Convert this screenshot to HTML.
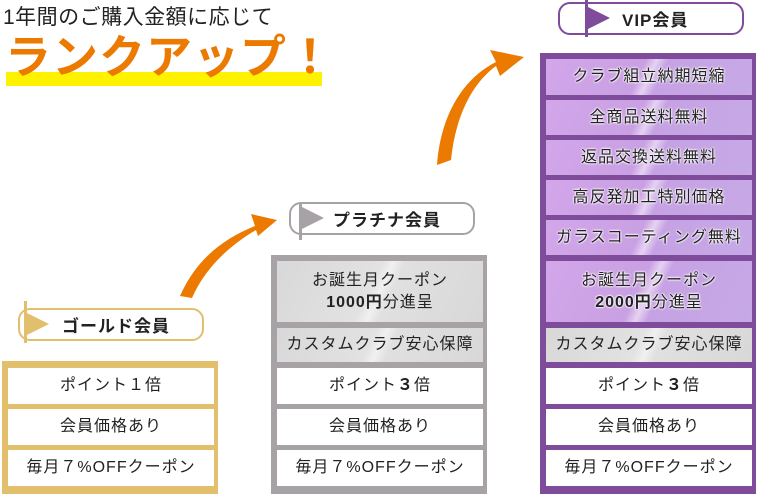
<!DOCTYPE html>
<html><head><meta charset="utf-8"><style>
*{margin:0;padding:0;box-sizing:border-box}
body{width:759px;height:494px;background:#fff;position:relative;overflow:hidden;font-family:"Liberation Sans","Noto Sans CJK JP",sans-serif;color:#222}
.a{position:absolute}
.box{position:absolute}
.row{position:absolute;left:6px;width:206px;display:flex;flex-direction:column;align-items:center;justify-content:center;font-size:16px;letter-spacing:1px;text-align:center;line-height:22px;background:#fff;white-space:nowrap}
.g{background:linear-gradient(115deg,#d8d8d8 0%,#e2e2e2 45%,#f0f0f0 50%,#e0e0e0 55%,#d8d8d8 100%)}
.p{background:linear-gradient(115deg,#d3a6ea 0%,#c9a0e3 45%,#e6d2f2 50%,#c6a2e4 55%,#c7a9e6 100%);color:#222;text-shadow:0 0 2px #fff,0 0 2px #fff,0 0 2px #fff}
.pill{position:absolute;height:33px;border-radius:12px;background:#fff;font-weight:bold;font-size:17px;letter-spacing:1px;display:flex;align-items:center}
b{font-weight:bold}
</style></head><body>
<div class="a" style="left:3px;top:1px;font-size:21px;color:#222;letter-spacing:0.5px">1年間のご購入金額に応じて</div>
<div class="a" style="left:6px;top:72px;width:316px;height:14px;background:#fff200"></div>
<div class="a" style="left:5px;top:31px;font-size:46px;font-weight:bold;color:#ec7a00;letter-spacing:1px;line-height:52px">ランクアップ！</div>

<svg class="a" style="left:0;top:0" width="759" height="494">
<path d="M437,165 C440,120 460,80 496,62 L490,50 L524,57 L500,76 L496,66 C470,85 455,120 451,160 Z" fill="#ec7a00"/>
<path d="M180,296 C195,262 220,240 255,226 L251,214 L277,220 L258,236 L256,230 C230,245 205,268 192,298 Z" fill="#ec7a00"/>
</svg>

<!-- Gold -->
<div class="pill" style="left:18px;top:308px;width:186px;border:2px solid #e2bf6d"><span style="margin-left:42px">ゴールド会員</span></div>
<div class="a" style="left:24px;top:301px;width:3px;height:42px;background:#e2bf6d"></div>
<svg class="a" style="left:27px;top:313px" width="24" height="22"><path d="M0,0 L22,11 L0,22Z" fill="#e2bf6d"/></svg>
<div class="box" style="left:2px;top:361px;width:216px;height:133px;background:#e2bf6d">
<div class="row" style="top:7px;height:36px">ポイント１倍</div>
<div class="row" style="top:48px;height:36px">会員価格あり</div>
<div class="row" style="top:89px;height:36px">毎月７%OFFクーポン</div>
</div>

<!-- Platinum -->
<div class="pill" style="left:289px;top:202px;width:186px;border:2px solid #a7a2a6"><span style="margin-left:42px">プラチナ会員</span></div>
<div class="a" style="left:299px;top:204px;width:3px;height:36px;background:#a7a2a6"></div>
<svg class="a" style="left:302px;top:207px" width="24" height="22"><path d="M0,0 L22,11 L0,22Z" fill="#a7a2a6"/></svg>
<div class="box" style="left:271px;top:255px;width:216px;height:239px;background:#a7a2a6">
<div class="row g" style="top:6px;height:61px"><div>お誕生月クーポン</div><div><b>1000円</b>分進呈</div></div>
<div class="row g" style="top:73px;height:34px">カスタムクラブ安心保障</div>
<div class="row" style="top:113px;height:36px"><div>ポイント<b>３</b>倍</div></div>
<div class="row" style="top:154px;height:36px">会員価格あり</div>
<div class="row" style="top:195px;height:36px">毎月７%OFFクーポン</div>
</div>

<!-- VIP -->
<div class="pill" style="left:558px;top:2px;width:186px;border:2px solid #7e4c9a"><span style="margin-left:62px">VIP会員</span></div>
<div class="a" style="left:585px;top:0;width:3px;height:37px;background:#7e4c9a"></div>
<svg class="a" style="left:588px;top:7px" width="24" height="22"><path d="M0,0 L22,11 L0,22Z" fill="#7e4c9a"/></svg>
<div class="box" style="left:540px;top:53px;width:216px;height:441px;background:#7e4c9a">
<div class="row p" style="top:6px;height:36px">クラブ組立納期短縮</div>
<div class="row p" style="top:47px;height:35px">全商品送料無料</div>
<div class="row p" style="top:87px;height:35px">返品交換送料無料</div>
<div class="row p" style="top:127px;height:35px">高反発加工特別価格</div>
<div class="row p" style="top:167px;height:35px">ガラスコーティング無料</div>
<div class="row p" style="top:208px;height:61px"><div>お誕生月クーポン</div><div><b>2000円</b>分進呈</div></div>
<div class="row g" style="top:275px;height:34px">カスタムクラブ安心保障</div>
<div class="row" style="top:315px;height:36px"><div>ポイント<b>３</b>倍</div></div>
<div class="row" style="top:356px;height:36px">会員価格あり</div>
<div class="row" style="top:397px;height:36px">毎月７%OFFクーポン</div>
</div>
</body></html>
